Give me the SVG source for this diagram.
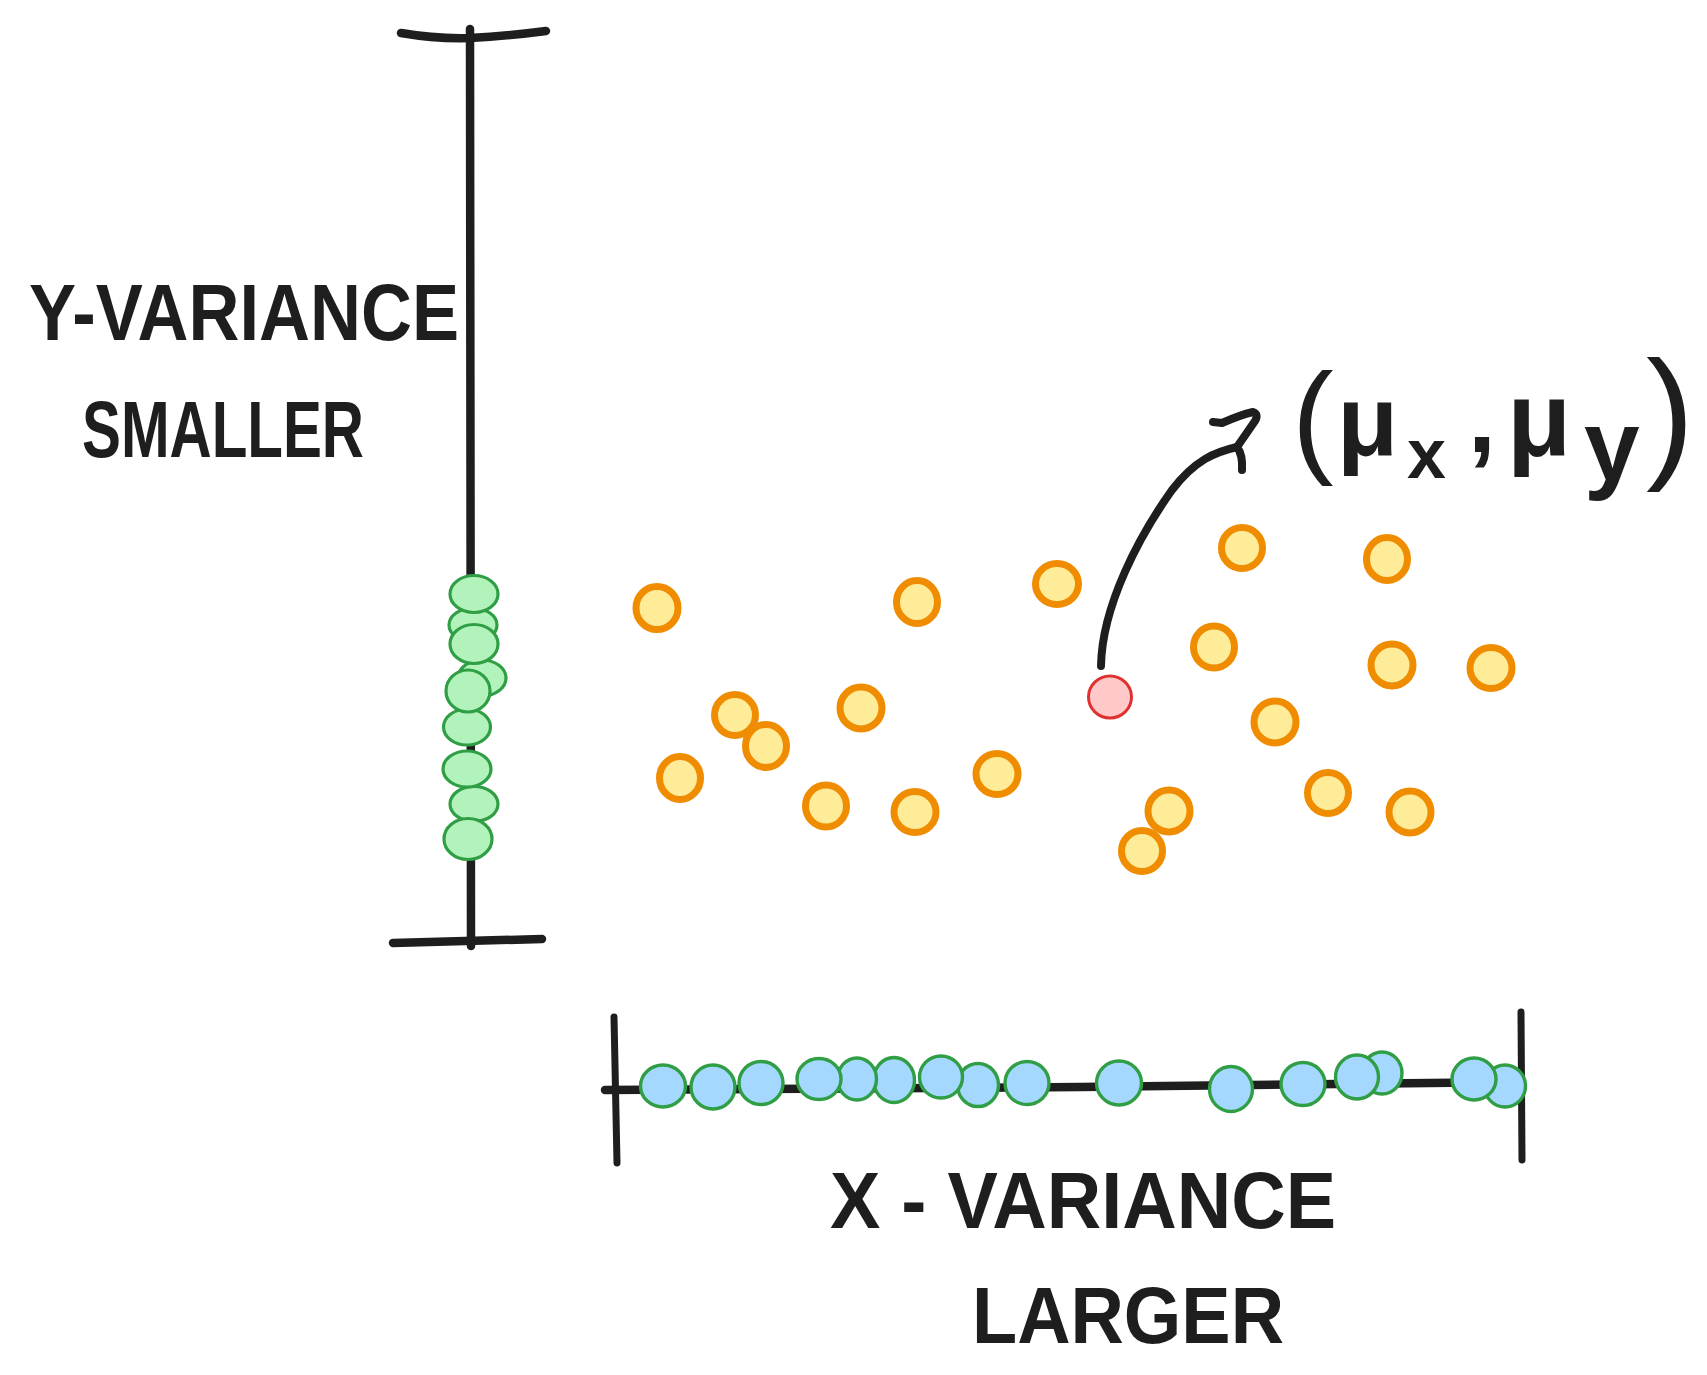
<svg xmlns="http://www.w3.org/2000/svg" width="1707" height="1375" viewBox="0 0 1707 1375">
<style>
.ink{fill:none;stroke:#1e1e1e;stroke-linecap:round;stroke-linejoin:round}
.axis{stroke-width:8.5}
.tick{stroke-width:7}
.arrow{stroke-width:8}
.org{fill:#ffec99;stroke:#f08c00;stroke-width:7}
.grn{fill:#b2f2bb;stroke:#2f9e44;stroke-width:3.2}
.blu{fill:#a5d8ff;stroke:#2f9e44;stroke-width:3.4}
.red{fill:#ffc9c9;stroke:#e03131;stroke-width:3}
.lbl{font-family:"Liberation Sans",Arial,sans-serif;font-weight:bold;fill:#1e1e1e}
.thin{font-weight:normal}
</style>
<rect width="1707" height="1375" fill="#ffffff"/>

<g id="y-axis">
<path class="ink axis" d="M401,33 Q436,39 470,38 Q508,36 546,31"/>
<path class="ink axis" d="M470,29 L471,946"/>
<path class="ink axis" d="M393,943 L542,939"/>
</g>

<g id="x-axis">
<path class="ink axis" d="M605,1090 L1080,1087 L1520,1082"/>
<path class="ink tick" d="M614,1017 L617,1163"/>
<path class="ink tick" d="M1521,1012 L1522,1160"/>
</g>

<g id="y-projection">
<g id="gy2"><ellipse class="grn" cx="473" cy="625" rx="24" ry="17"/></g>
<g id="gy4"><ellipse class="grn" cx="482" cy="678" rx="24" ry="18"/></g>
<g id="gy8"><ellipse class="grn" cx="474" cy="804" rx="24" ry="17.5"/></g>
<g id="gy6"><ellipse class="grn" cx="467" cy="727" rx="23.5" ry="18"/></g>
<g id="gy1"><ellipse class="grn" cx="474" cy="594" rx="24" ry="18.5"/></g>
<g id="gy3"><ellipse class="grn" cx="474" cy="644" rx="24" ry="19.5"/></g>
<g id="gy5"><ellipse class="grn" cx="468" cy="691" rx="22" ry="21"/></g>
<g id="gy7"><ellipse class="grn" cx="467" cy="769" rx="24" ry="18"/></g>
<g id="gy9"><ellipse class="grn" cx="468" cy="839" rx="24" ry="20.5"/></g>
</g>

<g id="x-projection">
<g id="bx1"><ellipse class="blu" cx="663" cy="1086" rx="22.5" ry="21"/></g>
<g id="bx2"><ellipse class="blu" cx="713" cy="1087" rx="22" ry="22"/></g>
<g id="bx3"><ellipse class="blu" cx="761" cy="1083" rx="22" ry="21.5"/></g>
<g id="bx6"><ellipse class="blu" cx="894" cy="1080" rx="20.5" ry="22.5"/></g>
<g id="bx5"><ellipse class="blu" cx="857" cy="1079" rx="19.5" ry="21"/></g>
<g id="bx4"><ellipse class="blu" cx="819" cy="1079" rx="22" ry="20.5"/></g>
<g id="bx8"><ellipse class="blu" cx="978" cy="1085" rx="20.5" ry="21.5"/></g>
<g id="bx7"><ellipse class="blu" cx="941" cy="1077" rx="21.5" ry="21"/></g>
<g id="bx9"><ellipse class="blu" cx="1027" cy="1083" rx="22" ry="21.5"/></g>
<g id="bx10"><ellipse class="blu" cx="1119" cy="1083" rx="22.5" ry="22"/></g>
<g id="bx11"><ellipse class="blu" cx="1231" cy="1089" rx="21.5" ry="22.5"/></g>
<g id="bx12"><ellipse class="blu" cx="1303" cy="1084" rx="22" ry="21.5"/></g>
<g id="bx13"><ellipse class="blu" cx="1382" cy="1073" rx="20" ry="21"/></g>
<g id="bx14"><ellipse class="blu" cx="1357" cy="1077" rx="21.5" ry="22"/></g>
<g id="bx15"><ellipse class="blu" cx="1505" cy="1086" rx="20.5" ry="21"/></g>
<g id="bx16"><ellipse class="blu" cx="1474" cy="1079" rx="22" ry="21"/></g>
</g>

<g id="samples">
<g id="o1"><ellipse class="org" cx="657" cy="608" rx="21" ry="21.5"/></g>
<g id="o2"><ellipse class="org" cx="917" cy="602" rx="20.5" ry="21.5"/></g>
<g id="o3"><ellipse class="org" cx="1057" cy="584" rx="21.5" ry="20.5"/></g>
<g id="o4"><ellipse class="org" cx="735" cy="715" rx="20.5" ry="20.5"/></g>
<g id="o5"><ellipse class="org" cx="766" cy="746" rx="20.5" ry="21.5"/></g>
<g id="o6"><ellipse class="org" cx="861" cy="708" rx="21" ry="21"/></g>
<g id="o7"><ellipse class="org" cx="680" cy="778" rx="20.5" ry="21.5"/></g>
<g id="o8"><ellipse class="org" cx="826" cy="806" rx="20.5" ry="21"/></g>
<g id="o9"><ellipse class="org" cx="915" cy="812" rx="21" ry="20.5"/></g>
<g id="o10"><ellipse class="org" cx="997" cy="774" rx="21" ry="20.5"/></g>
<g id="o11"><ellipse class="org" cx="1242" cy="548" rx="20.5" ry="20.5"/></g>
<g id="o12"><ellipse class="org" cx="1387" cy="559" rx="20.5" ry="21.5"/></g>
<g id="o13"><ellipse class="org" cx="1214" cy="647" rx="20.5" ry="21"/></g>
<g id="o14"><ellipse class="org" cx="1392" cy="665" rx="21" ry="21"/></g>
<g id="o15"><ellipse class="org" cx="1491" cy="668" rx="21" ry="20.5"/></g>
<g id="o16"><ellipse class="org" cx="1275" cy="722" rx="21" ry="21"/></g>
<g id="o17"><ellipse class="org" cx="1328" cy="793" rx="20.5" ry="20.5"/></g>
<g id="o18"><ellipse class="org" cx="1410" cy="812" rx="21" ry="21"/></g>
<g id="o19"><ellipse class="org" cx="1169" cy="811" rx="21" ry="21"/></g>
<g id="o20"><ellipse class="org" cx="1142" cy="851" rx="20.5" ry="20.5"/></g>
</g>

<g id="mean"><ellipse class="red" cx="1110" cy="697" rx="21.5" ry="21"/></g>

<g id="connectors">
<path class="ink arrow" d="M1101,666 C1102,605 1140,535 1172,490 C1195,460 1215,452 1237,447"/>
<path class="ink arrow" d="M1213,422 L1222,423 Q1240,415 1253,412 Q1259,414 1255,421 L1237,447 Q1243,455 1242,470"/>
</g>

<g id="label-y">
<text class="lbl" x="29" y="340" font-size="80" textLength="430" lengthAdjust="spacingAndGlyphs">Y-VARIANCE</text>
<text class="lbl" x="82" y="457" font-size="80" textLength="282" lengthAdjust="spacingAndGlyphs">SMALLER</text>
</g>

<g id="label-x">
<text class="lbl" x="830" y="1228" font-size="80" textLength="506" lengthAdjust="spacingAndGlyphs">X - VARIANCE</text>
<text class="lbl" x="972" y="1343" font-size="80" textLength="312" lengthAdjust="spacingAndGlyphs">LARGER</text>
</g>

<g id="label-mean">
<text class="lbl"><tspan class="thin" x="1292" y="460" font-size="125">(</tspan><tspan x="1337" y="455" font-size="100">μ</tspan><tspan x="1407" y="478" font-size="70">x</tspan><tspan x="1468" y="452" font-size="100">,</tspan><tspan x="1507" y="455" font-size="105">μ</tspan><tspan x="1584" y="480" font-size="100">y</tspan><tspan class="thin" x="1646" y="462" font-size="145">)</tspan></text>
</g>
</svg>
